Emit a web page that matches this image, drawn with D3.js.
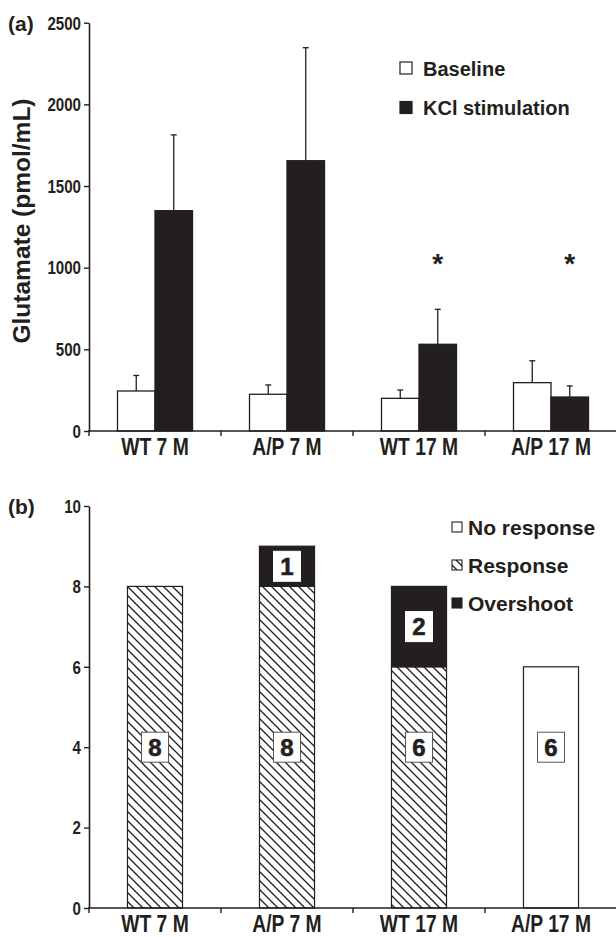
<!DOCTYPE html>
<html><head><meta charset="utf-8">
<script src="https://cdn.jsdelivr.net/npm/d3@7"></script>
<style>
body{margin:0;background:#fff}
svg{display:block}
text{font-family:"Liberation Sans",Arial,sans-serif;font-weight:bold;fill:#231f20}
</style>
</head><body>
<svg id="c" width="616" height="937"></svg>
<script>
// ---------- data ----------
const categories = ["WT 7 M", "A/P 7 M", "WT 17 M", "A/P 17 M"];
const seriesA = ["Baseline", "KCl stimulation"];
const baseline = [245, 225, 200, 296];
const baselineErr = [95, 57, 51, 134];
const kcl = [1349, 1655, 531, 208];
const kclErr = [464, 692, 214, 68];
const significant = [false, false, true, true];
const ticksA = [0, 500, 1000, 1500, 2000, 2500];

const seriesB = ["No response", "Response", "Overshoot"];
const noResponse = [0, 0, 0, 6];
const response = [8, 8, 6, 0];
const overshoot = [0, 1, 2, 0];
const ticksB = [0, 2, 4, 6, 8, 10];

// ---------- layout ----------
const ink = "#231f20";
const svg = d3.select("#c");
const defs = svg.append("defs");
const pat = defs.append("pattern").attr("id", "hatch").attr("patternUnits", "userSpaceOnUse")
  .attr("width", 9).attr("height", 9);
pat.append("rect").attr("width", 9).attr("height", 9).attr("fill", "#fff");
pat.append("path").attr("d", "M0,0L9,9M-2,7L2,11M7,-2L11,2")
  .attr("stroke", ink).attr("stroke-width", 1.3);

const left = 89, right = 617;
const narrow = 0.84;

function drawAxes(g, y, ticks, yBase, x, labelBaseline) {
  const ya = g.append("g").attr("transform", `translate(${left},0)`)
    .call(d3.axisLeft(y).tickValues(ticks).tickFormat(d3.format("d")).tickSize(5).tickSizeOuter(0).tickPadding(3));
  ya.select(".domain").attr("stroke", ink).attr("stroke-width", 1.6);
  ya.selectAll(".tick line").attr("stroke", ink).attr("stroke-width", 1.4);
  ya.selectAll(".tick text").attr("font-size", 18).attr("font-family", null).attr("fill", ink)
    .attr("x", 0).attr("dy", "0.35em")
    .attr("transform", `translate(-8,0) scale(${narrow},1)`);
  g.append("line").attr("x1", left - 0.8).attr("x2", right).attr("y1", yBase).attr("y2", yBase)
    .attr("stroke", ink).attr("stroke-width", 1.6);
  g.selectAll(".bt").data(categories).join("line")
    .attr("x1", d => x(d)).attr("x2", d => x(d))
    .attr("y1", yBase).attr("y2", yBase + 5)
    .attr("stroke", ink).attr("stroke-width", 1.4);
  g.selectAll(".cl").data(categories).join("text")
    .attr("transform", d => `translate(${x(d) + x.bandwidth() / 2},${labelBaseline}) scale(${narrow},1)`)
    .attr("text-anchor", "middle").attr("font-size", 23).text(d => d);
}

// ---------- panel (a) ----------
const gA = svg.append("g");
const xA = d3.scaleBand().domain(categories).range([left, right]);
const xA2 = d3.scaleBand().domain(seriesA).range([0, xA.bandwidth()]).paddingOuter(0.76);
const yA = d3.scaleLinear().domain([0, 2500]).range([431, 22.7]);

const rowsA = categories.map((c, i) => ({
  c, vals: [
    {s: seriesA[0], v: baseline[i], e: baselineErr[i]},
    {s: seriesA[1], v: kcl[i], e: kclErr[i]}
  ]
}));
const grpA = gA.selectAll(".grp").data(rowsA).join("g")
  .attr("transform", d => `translate(${xA(d.c)},0)`);
grpA.selectAll(".err").data(d => d.vals).join("g").each(function (d) {
  const cx = xA2(d.s) + xA2.bandwidth() / 2;
  const g = d3.select(this);
  g.append("line").attr("x1", cx).attr("x2", cx).attr("y1", yA(d.v)).attr("y2", yA(d.v + d.e))
    .attr("stroke", ink).attr("stroke-width", 1.3);
  g.append("line").attr("x1", cx - 3).attr("x2", cx + 3).attr("y1", yA(d.v + d.e)).attr("y2", yA(d.v + d.e))
    .attr("stroke", ink).attr("stroke-width", 1.3);
});
grpA.selectAll(".bar").data(d => d.vals).join("rect")
  .attr("x", d => xA2(d.s)).attr("width", xA2.bandwidth())
  .attr("y", d => yA(d.v)).attr("height", d => yA(0) - yA(d.v))
  .attr("fill", d => d.s === seriesA[0] ? "#fff" : ink)
  .attr("stroke", ink).attr("stroke-width", 1.3);

const starLevel = 1060;
gA.selectAll(".star").data(categories.filter((c, i) => significant[i])).join("text")
  .attr("x", d => xA(d) + xA2(seriesA[1]) + xA2.bandwidth() / 2)
  .attr("y", yA(starLevel) + 15)
  .attr("text-anchor", "middle").attr("font-size", 28).text("*");

drawAxes(gA, yA, ticksA, yA(0), xA, 455);

const legA = gA.selectAll(".lg").data(seriesA).join("g")
  .attr("transform", (d, i) => `translate(400,${68 + i * 39.5})`);
legA.append("rect").attr("x", 0).attr("y", -6).attr("width", 12).attr("height", 12)
  .attr("fill", (d, i) => i === 0 ? "#fff" : ink).attr("stroke", ink).attr("stroke-width", 1.2);
legA.append("text").attr("x", 23).attr("y", 7.5).attr("font-size", 20).text(d => d);

gA.append("text").attr("x", 8).attr("y", 31).attr("font-size", 21).text("(a)");
gA.append("text").attr("transform", `translate(30,221) rotate(-90)`)
  .attr("text-anchor", "middle").attr("font-size", 24.5).text("Glutamate (pmol/mL)");

// ---------- panel (b) ----------
const gB = svg.append("g");
const xB = d3.scaleBand().domain(categories).range([left, right]);
const barFracB = 0.417;
const yB = d3.scaleLinear().domain([0, 10]).range([908, 506]);
const fills = {"No response": "#fff", "Response": "url(#hatch)", "Overshoot": ink};

const stackRows = categories.map((c, i) => ({c, "No response": noResponse[i], "Response": response[i], "Overshoot": overshoot[i]}));
const stacked = d3.stack().keys(seriesB)(stackRows);
const bw = xB.bandwidth() * barFracB;
stacked.forEach(layer => {
  gB.selectAll(null).data(layer.filter(d => d[1] > d[0])).join("rect")
    .attr("x", d => xB(d.data.c) + (xB.bandwidth() - bw) / 2).attr("width", bw)
    .attr("y", d => yB(d[1])).attr("height", d => yB(d[0]) - yB(d[1]))
    .attr("fill", fills[layer.key]).attr("stroke", ink).attr("stroke-width", 1.2);
});
const countLabelAt = 4;
const labels = [];
stacked.forEach(layer => layer.forEach(d => {
  if (d[1] > d[0]) {
    const n = d[1] - d[0];
    const yv = layer.key === "Overshoot" ? (d[0] + d[1]) / 2 : countLabelAt;
    labels.push({c: d.data.c, n, yv, dark: layer.key === "Overshoot"});
  }
}));
const lab = gB.selectAll(".lab").data(labels).join("g")
  .attr("transform", d => `translate(${xB(d.c) + xB.bandwidth() / 2},${yB(d.yv)})`);
lab.append("rect").attr("x", -13.5).attr("y", -15).attr("width", 27).attr("height", 30)
  .attr("fill", "#fff").attr("stroke", d => d.dark ? "#fff" : "#555").attr("stroke-width", 1);
lab.append("text").attr("text-anchor", "middle").attr("y", 8.5).attr("font-size", 24)
  .attr("stroke", ink).attr("stroke-width", 0.6).text(d => d.n);

drawAxes(gB, yB, ticksB, yB(0), xB, 932);

const legB = gB.selectAll(".lg").data(seriesB).join("g")
  .attr("transform", (d, i) => `translate(452,${527 + i * 38})`);
legB.append("rect").attr("x", 0).attr("y", -5).attr("width", 10).attr("height", 10)
  .attr("fill", d => fills[d]).attr("stroke", ink).attr("stroke-width", 1.1);
legB.append("text").attr("x", 16).attr("y", 7.5).attr("font-size", 21).text(d => d);

gB.append("text").attr("x", 8).attr("y", 514).attr("font-size", 21).text("(b)");
</script>
</body></html>
